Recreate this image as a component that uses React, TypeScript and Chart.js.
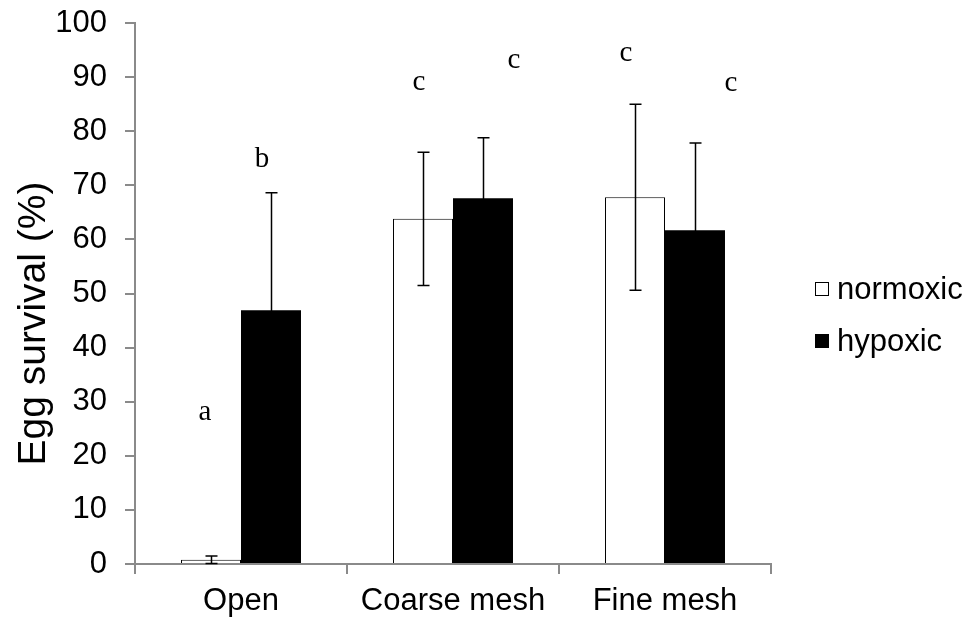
import React, { useEffect, useRef } from 'react';
import { Chart, registerables } from 'chart.js';

Chart.register(...registerables);

// ---- data ----
const categories = ['Open', 'Coarse mesh', 'Fine mesh'];
const normoxic = [0.8, 63.8, 67.8];
const normoxicErr = [0.7, 12.3, 17.2];
const hypoxic = [46.9, 67.6, 61.7];
const hypoxicErr = [21.7, 11.2, 16.1];
const normoxicLetters = ['a', 'c', 'c'];
const normoxicLetterY = [28.0, 89.0, 94.3];
const hypoxicLetters = ['b', 'c', 'c'];
const hypoxicLetterY = [74.7, 93.0, 88.9];
const yTitle = 'Egg survival (%)';
const yMin = 0;
const yMax = 100;
const yStep = 10;

// ---- style ----
const SANS = '"Liberation Sans", Arial, sans-serif';
const SERIF = '"Liberation Serif", "Times New Roman", serif';
const AXIS = '#8a8a8a';
const normoxicLetterDx = [-6, -4, -9];
const hypoxicLetterDx = [-9, 31, 36];

export default function App() {
  const ref = useRef<HTMLCanvasElement>(null);

  useEffect(() => {
    const canvas = ref.current;
    if (!canvas) return;

    const errorBars = {
      id: 'errorBars',
      afterDatasetsDraw(chart: any) {
        const ctx = chart.ctx;
        const y = chart.scales.y;
        [normoxicErr, hypoxicErr].forEach((errs, di) => {
          const meta = chart.getDatasetMeta(di);
          const vals = chart.data.datasets[di].data as number[];
          meta.data.forEach((bar: any, i: number) => {
            const v = vals[i];
            const e = errs[i];
            const yt = y.getPixelForValue(v + e);
            const yb = y.getPixelForValue(Math.max(0, v - e));
            const x = Math.round(bar.x) + 0.5;
            ctx.save();
            ctx.strokeStyle = '#000';
            ctx.lineWidth = 1.5;
            ctx.beginPath();
            ctx.moveTo(x, yt);
            ctx.lineTo(x, yb);
            ctx.moveTo(x - 6, yt);
            ctx.lineTo(x + 6, yt);
            ctx.moveTo(x - 6, yb);
            ctx.lineTo(x + 6, yb);
            ctx.stroke();
            ctx.restore();
          });
        });
      },
    };

    const letters = {
      id: 'letters',
      afterDraw(chart: any) {
        const ctx = chart.ctx;
        const y = chart.scales.y;
        const sets = [
          { l: normoxicLetters, v: normoxicLetterY, dx: normoxicLetterDx },
          { l: hypoxicLetters, v: hypoxicLetterY, dx: hypoxicLetterDx },
        ];
        ctx.save();
        ctx.fillStyle = '#000';
        ctx.font = `29px ${SERIF}`;
        ctx.textAlign = 'center';
        ctx.textBaseline = 'middle';
        sets.forEach((s, di) => {
          const meta = chart.getDatasetMeta(di);
          meta.data.forEach((bar: any, i: number) => {
            ctx.fillText(s.l[i], bar.x + s.dx[i], y.getPixelForValue(s.v[i]));
          });
        });
        ctx.restore();
      },
    };

    const axisTitle = {
      id: 'axisTitle',
      afterDraw(chart: any) {
        const ctx = chart.ctx;
        const area = chart.chartArea;
        ctx.save();
        ctx.translate(34, (area.top + area.bottom) / 2 + 30);
        ctx.rotate(-Math.PI / 2);
        ctx.font = `39px ${SANS}`;
        ctx.fillStyle = '#000';
        ctx.textAlign = 'center';
        ctx.textBaseline = 'middle';
        ctx.fillText(yTitle, 0, 0);
        ctx.restore();
      },
    };

    const legendPlugin = {
      id: 'customLegend',
      afterDraw(chart: any) {
        const ctx = chart.ctx;
        const area = chart.chartArea;
        const x0 = area.right + 44;
        const yc = [289, 341];
        ctx.save();
        ctx.font = `31px ${SANS}`;
        ctx.textBaseline = 'middle';
        ctx.textAlign = 'left';
        chart.data.datasets.forEach((ds: any, i: number) => {
          const y = yc[i];
          ctx.fillStyle = ds.backgroundColor;
          ctx.fillRect(x0, y - 7, 14, 14);
          ctx.strokeStyle = '#000';
          ctx.lineWidth = 1;
          ctx.strokeRect(x0 + 0.5, y - 6.5, 13, 13);
          ctx.fillStyle = '#000';
          ctx.fillText(ds.label, x0 + 22, y + 1);
        });
        ctx.restore();
      },
    };

    const chart = new Chart(canvas, {
      type: 'bar',
      data: {
        labels: categories,
        datasets: [
          {
            label: 'normoxic',
            data: normoxic,
            backgroundColor: '#ffffff',
            borderColor: '#000000',
            borderWidth: 1,
            categoryPercentage: 0.566,
            barPercentage: 1,
          },
          {
            label: 'hypoxic',
            data: hypoxic,
            backgroundColor: '#000000',
            borderColor: '#000000',
            borderWidth: 0,
            categoryPercentage: 0.566,
            barPercentage: 1,
          },
        ],
      },
      options: {
        responsive: false,
        animation: false,
        layout: { padding: { top: 23, right: 205, bottom: 0, left: 0 } },
        plugins: {
          legend: { display: false },
          tooltip: { enabled: false },
        },
        scales: {
          x: {
            grid: {
              display: true,
              drawOnChartArea: false,
              drawTicks: true,
              tickLength: 10,
              color: AXIS,
              lineWidth: 2,
              offset: true,
            },
            border: { display: true, color: AXIS, width: 2 },
            ticks: {
              color: '#000',
              font: { family: SANS, size: 31 },
              padding: 9,
              maxRotation: 0,
            },
            afterFit(scale: any) {
              scale.height = 64;
              scale.paddingLeft = 0;
              scale.paddingRight = 0;
            },
          },
          y: {
            min: yMin,
            max: yMax,
            grid: {
              display: true,
              drawOnChartArea: false,
              drawTicks: true,
              tickLength: 10,
              color: AXIS,
              lineWidth: 2,
            },
            border: { display: true, color: AXIS, width: 2 },
            ticks: {
              stepSize: yStep,
              color: '#000',
              font: { family: SANS, size: 31 },
              padding: 18,
            },
            title: { display: false },
            afterFit(scale: any) {
              scale.width = 135;
              scale.paddingTop = 0;
              scale.paddingBottom = 0;
            },
          },
        },
      },
      plugins: [errorBars, letters, axisTitle, legendPlugin],
    } as any);

    return () => chart.destroy();
  }, []);

  return (
    <div style={{ position: 'fixed', left: 0, top: 0, width: 976, height: 628, background: '#fff' }}>
      <canvas ref={ref} width={976} height={628} style={{ display: 'block' }} />
    </div>
  );
}
